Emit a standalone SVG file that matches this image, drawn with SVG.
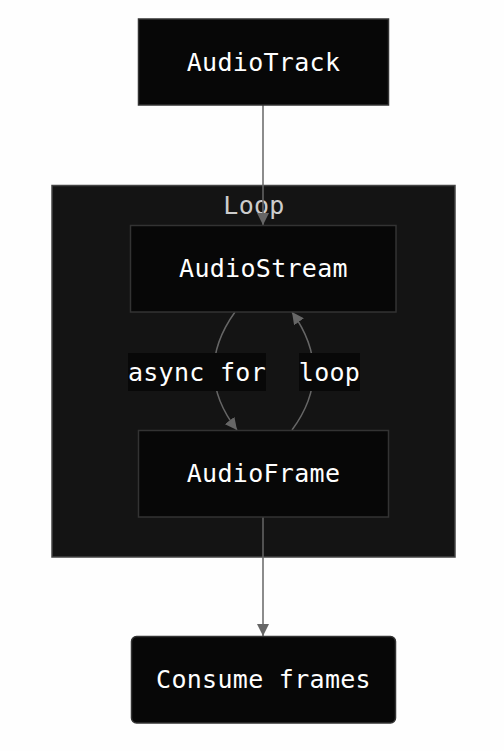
<svg xmlns="http://www.w3.org/2000/svg" width="504" height="751" viewBox="0 0 504 751">
<style>
.node{fill:#070707;stroke:#333;stroke-width:1.5}
.t{font-family:"DejaVu Sans Mono","Liberation Mono",monospace;font-size:25px;letter-spacing:0.3px;fill:#fff;text-anchor:middle;dominant-baseline:central}
.edge{fill:none;stroke:#666;stroke-width:1.5}
.lbl{fill:#080808}
</style>
<defs>
<marker id="ah" viewBox="0 0 10 10" refX="10" refY="5" markerWidth="12" markerHeight="12" markerUnits="userSpaceOnUse" orient="auto">
<path d="M0,0 L10,5 L0,10 z" fill="#666"/>
</marker>
</defs>
<rect width="504" height="751" fill="#fefefe"/>
<g id="cluster-loop">
<rect x="52" y="185.5" width="403" height="371.5" fill="#141414" stroke="#444" stroke-width="1.5"/>
<text class="t" x="254" y="205" style="fill:#ccc">Loop</text>
</g>
<g id="edges">
<path class="edge" d="M263,105 L263,225" marker-end="url(#ah)"/>
<path class="edge" d="M235,312 Q192,372 237,430" marker-end="url(#ah)"/>
<path class="edge" d="M292,430 Q335,372 292,312" marker-end="url(#ah)"/>
<path class="edge" d="M263,517 L263,636" marker-end="url(#ah)"/>
<rect class="lbl" x="128" y="353" width="138" height="38"/>
<text class="t" x="197" y="372">async for</text>
<rect class="lbl" x="299" y="353" width="61" height="38"/>
<text class="t" x="329.5" y="372">loop</text>
</g>
<g id="AudioTrack">
<rect class="node" x="138.5" y="19" width="250" height="86"/>
<text class="t" x="263.5" y="62">AudioTrack</text>
</g>
<g id="AudioStream">
<rect class="node" x="130.5" y="225.5" width="265.5" height="86.5"/>
<text class="t" x="263.5" y="268">AudioStream</text>
</g>
<g id="AudioFrame">
<rect class="node" x="138.5" y="430.5" width="250" height="86.5"/>
<text class="t" x="263.5" y="473">AudioFrame</text>
</g>
<g id="Consume">
<rect class="node" x="131.5" y="636.5" width="264" height="86.5" rx="5"/>
<text class="t" x="263.5" y="679">Consume frames</text>
</g>
</svg>
